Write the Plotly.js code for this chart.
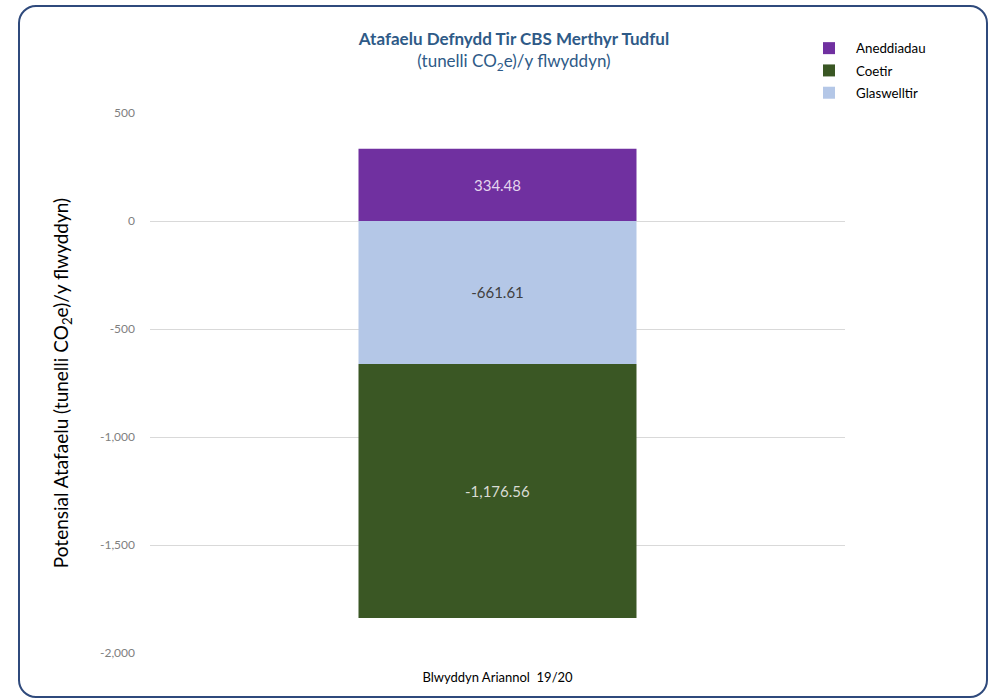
<!DOCTYPE html>
<html>
<head>
<meta charset="utf-8">
<script src="https://cdn.plot.ly/plotly-3.0.1.min.js"></script>
<style>
html,body{margin:0;padding:0;background:#fff;}
#wrap{position:relative;width:993px;height:699px;overflow:hidden;}
#chart{position:absolute;left:0;top:0;width:993px;height:699px;}
#frame{position:absolute;left:18px;top:5px;width:966px;height:689px;border:2px solid #2f4a7c;border-radius:18px;pointer-events:none;}
</style>
</head>
<body>
<div id="wrap"><div id="chart"></div><div id="frame"></div></div>
<script>
// Data
const categories = ["Blwyddyn Ariannol  19/20"];
const seriesNames = ["Aneddiadau", "Glaswelltir", "Coetir"];
const aneddiadau = [334.48];
const glaswelltir = [-661.61];
const coetir = [-1176.56];
const tickValues = [500, 0, -500, -1000, -1500, -2000];

function fmt(v, dec) {
  const s = Math.abs(v).toLocaleString('en-US', {minimumFractionDigits: dec, maximumFractionDigits: dec});
  return (v < 0 ? '-' : '') + s;
}
const tickText = tickValues.map(v => fmt(v, 0));

const common = {
  type: 'bar', x: categories, width: 0.4, textposition: 'inside',
  insidetextanchor: 'middle', hoverinfo: 'skip', constraintext: 'none'
};

const traces = [
  Object.assign({}, common, {name: seriesNames[0], legendgroup: 'a', y: aneddiadau, text: aneddiadau.map(v => fmt(v, 2)),
    marker: {color: '#7030a0', line: {width: 0}}, textfont: {family: 'Lato, sans-serif', size: 15, color: '#e4d6ee'}, legendrank: 1}),
  Object.assign({}, common, {name: seriesNames[1], legendgroup: 'g', y: glaswelltir, text: glaswelltir.map(v => fmt(v, 2)),
    marker: {color: '#b4c7e7', line: {width: 0}}, textfont: {family: 'Lato, sans-serif', size: 15, color: '#404040'}, legendrank: 3}),
  Object.assign({}, common, {name: seriesNames[2], legendgroup: 'c', y: coetir, text: coetir.map(v => fmt(v, 2)),
    marker: {color: '#3a5724', line: {width: 0}}, textfont: {family: 'Lato, sans-serif', size: 15, color: '#d9dcd4'}, legendrank: 2})
];

const layout = {
  width: 993, height: 699,
  margin: {l: 150, r: 148, t: 113, b: 46, autoexpand: false},
  paper_bgcolor: '#ffffff', plot_bgcolor: '#ffffff',
  barmode: 'relative',
  font: {family: 'Lato, sans-serif', color: '#000'},
  title: {
    text: '<b>Atafaelu Defnydd Tir CBS Merthyr Tudful</b><br>(tunelli CO<sub>2</sub>e)/y flwyddyn)',
    x: 514/993, xanchor: 'center', xref: 'container',
    y: 1 - 45/699, yanchor: 'top', yref: 'container',
    font: {family: 'Lato, sans-serif', size: 17, color: '#2e5a87'}
  },
  showlegend: true,
  legend: {
    x: 802/993, xref: 'container', xanchor: 'left',
    y: 1 - 33/699, yref: 'container', yanchor: 'top',
    font: {family: 'Lato, sans-serif', size: 13.3, color: '#000'},
    tracegroupgap: 2, itemwidth: 44, bgcolor: 'rgba(0,0,0,0)'
  },
  xaxis: {
    range: [-0.5, 0.5], showgrid: false, zeroline: false, showline: false,
    ticks: '', tickfont: {family: 'Lato, sans-serif', size: 13, color: '#000'}, fixedrange: true,
    ticklabelstandoff: 15
  },
  yaxis: {
    range: [-2000, 500], tickvals: tickValues, ticktext: tickText,
    showgrid: true, gridcolor: '#d9d9d9', gridwidth: 1, zeroline: false, showline: false,
    ticks: '', tickfont: {family: 'Lato, sans-serif', size: 12, color: '#7f7f7f'},
    ticklabelstandoff: 14,
    title: {text: 'Potensial Atafaelu (tunelli CO<sub>2</sub>e)/y flwyddyn)', standoff: 26,
      font: {family: 'Lato, sans-serif', size: 19, color: '#000'}},
    fixedrange: true
  }
};

Plotly.newPlot('chart', traces, layout, {displayModeBar: false, staticPlot: true});
</script>
</body>
</html>
